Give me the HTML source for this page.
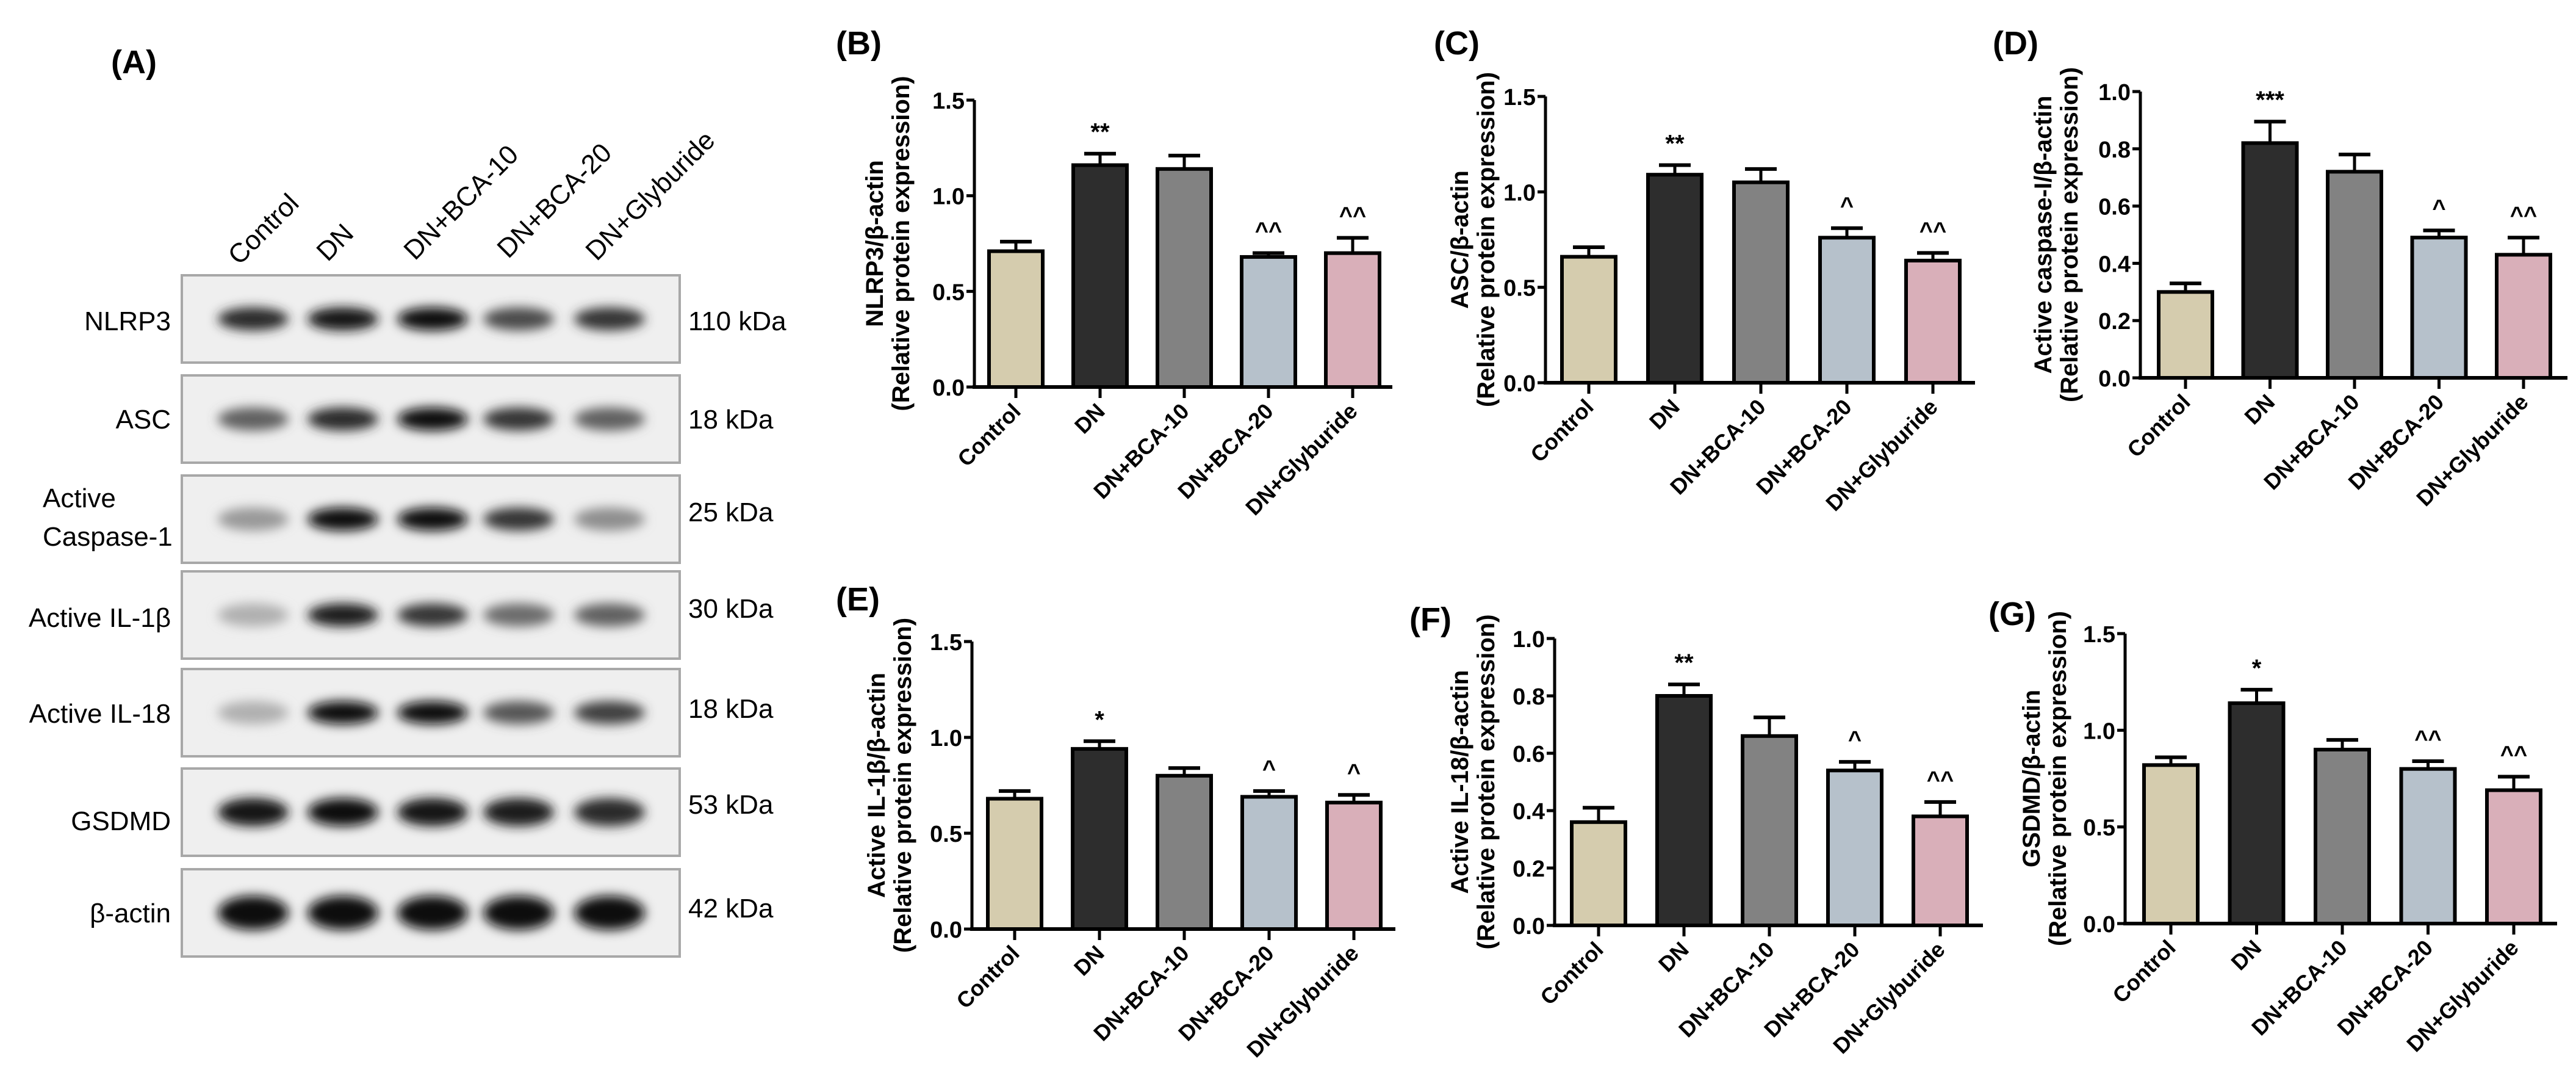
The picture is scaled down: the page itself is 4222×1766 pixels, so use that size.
<!DOCTYPE html>
<html><head><meta charset="utf-8">
<style>
html,body{margin:0;padding:0;background:#fff;}
svg{display:block;font-family:"Liberation Sans",sans-serif;}
</style></head>
<body>
<svg id="fig" width="4222" height="1766" viewBox="0 0 4222 1766" xmlns="http://www.w3.org/2000/svg">
<defs>
<filter id="blur" x="-50%" y="-100%" width="200%" height="300%"><feGaussianBlur stdDeviation="9"/></filter>
</defs>
<g id="blot"></g>
<g id="charts"></g>
</svg>
<script>
const NS = "http://www.w3.org/2000/svg";
// ---------------- data ----------------
const groups = ["Control","DN","DN+BCA-10","DN+BCA-20","DN+Glyburide"];
const barColors = ["#d5ccae","#2d2d2d","#828282","#b6c1cb","#d9afb9"];
const valuesB = [0.71,1.16,1.14,0.68,0.70];
const errorsB = [0.05,0.06,0.07,0.02,0.08];
const sigB = ["","**","","^^","^^"];
const valuesC = [0.66,1.09,1.05,0.76,0.64];
const errorsC = [0.05,0.05,0.07,0.05,0.04];
const sigC = ["","**","","^","^^"];
const valuesD = [0.30,0.82,0.72,0.49,0.43];
const errorsD = [0.03,0.075,0.06,0.025,0.06];
const sigD = ["","***","","^","^^"];
const valuesE = [0.68,0.94,0.80,0.69,0.66];
const errorsE = [0.04,0.04,0.04,0.03,0.04];
const sigE = ["","*","","^","^"];
const valuesF = [0.36,0.80,0.66,0.54,0.38];
const errorsF = [0.05,0.04,0.065,0.03,0.05];
const sigF = ["","**","","^","^^"];
const valuesG = [0.82,1.14,0.90,0.80,0.69];
const errorsG = [0.04,0.07,0.05,0.04,0.07];
const sigG = ["","*","","^^","^^"];
const ticks15 = ["0.0","0.5","1.0","1.5"];
const ticks10 = ["0.0","0.2","0.4","0.6","0.8","1.0"];
const blotRows = ["NLRP3","ASC","Active Caspase-1","Active IL-1β","Active IL-18","GSDMD","β-actin"];
const blotKDa = ["110 kDa","18 kDa","25 kDa","30 kDa","18 kDa","53 kDa","42 kDa"];
const bandIntensity = [
 [0.85,0.95,1.0,0.7,0.8],
 [0.6,0.85,1.0,0.8,0.6],
 [0.35,1.0,1.0,0.8,0.4],
 [0.25,0.9,0.8,0.55,0.6],
 [0.25,1.0,1.0,0.65,0.75],
 [0.95,1.0,0.95,0.9,0.85],
 [1.0,1.0,1.0,1.0,1.0]
];

function mk(tag, attrs, parent){
  const e=document.createElementNS(NS,tag);
  for(const k in attrs) e.setAttribute(k,attrs[k]);
  if(parent) parent.appendChild(e);
  return e;
}

// ---------------- blot ----------------
const blot=document.getElementById("blot");
const A=mk("text",{x:182,y:120,"font-size":54,"font-weight":"bold"},blot);
A.textContent="(A)";


const laneX=[415,562,709,850,999];
const laneLabelPos=[[392,436],[537,430],[680,428],[833,425],[978,429]];
groups.forEach((g,i)=>{
  const t=mk("text",{x:laneLabelPos[i][0],y:laneLabelPos[i][1],"font-size":44,transform:`rotate(-45 ${laneLabelPos[i][0]} ${laneLabelPos[i][1]})`},blot);
  t.textContent=g;
  
  
});
const boxTop=[451,615,779,936,1096,1259,1424];
const boxH=143;
const labelY=[[525],[686],[815,878],[1011],[1168],[1344],[1495]];
const kdaY=[525,686,838,996,1160,1317,1487];
blotRows.forEach((r,ri)=>{
  const box=mk("rect",{x:298,y:boxTop[ri],width:816,height:boxH,fill:"#efefef",stroke:"#a8a8a8","stroke-width":4},blot);
  
  
  bandIntensity[ri].forEach((v,li)=>{
    const g=Math.round(232-225*v);
    const bh = ri===6?56:(ri===5?46:38);
    const b=mk("ellipse",{cx:laneX[li],cy:boxTop[ri]+boxH*0.5,rx:58,ry:bh/2,fill:`rgb(${g},${g},${g})`,filter:"url(#blur)"},blot);
    
    
  });
  if(ri===2){
    const t1=mk("text",{x:70,y:labelY[ri][0]+16,"font-size":44},blot); t1.textContent="Active";
    
    
    const t2=mk("text",{x:70,y:labelY[ri][1]+16,"font-size":44},blot); t2.textContent="Caspase-1";
    
    
  } else {
    const t=mk("text",{x:280,y:labelY[ri][0]+16,"font-size":44,"text-anchor":"end"},blot); t.textContent=r;
    
    
  }
  const k=mk("text",{x:1128,y:kdaY[ri]+16,"font-size":44},blot); k.textContent=blotKDa[ri];
  
  
});

// ---------------- charts ----------------
const chartsG=document.getElementById("charts");
function chart(cfg){
  const g=mk("g",{},chartsG);
  
  
  const yOf=v=>cfg.y0-(v/cfg.ymax)*(cfg.y0-cfg.yTop);
  const xOf=i=>cfg.c0+i*cfg.sp;
  const lab=mk("text",{x:cfg.lx,y:cfg.ly,"font-size":54,"font-weight":"bold"},g);
  lab.textContent="("+cfg.id.toUpperCase()+")";
  
  
  const ya=mk("line",{x1:cfg.ax,y1:cfg.yTop,x2:cfg.ax,y2:cfg.y0,stroke:"#000","stroke-width":5},g);
  
  
  cfg.ticks.forEach(t=>{
    const v=parseFloat(t), y=yOf(v);
    const tk=mk("line",{x1:cfg.ax-13,y1:y,x2:cfg.ax,y2:y,stroke:"#000","stroke-width":5},g);
    
    
    const tl=mk("text",{x:cfg.ax-16,y:y+14,"font-size":38,"font-weight":"bold","text-anchor":"end"},g);
    tl.textContent=t;
    
    
  });
  const cy=(cfg.y0+cfg.yTop)/2;
  const t1=mk("text",{x:cfg.tx1,y:cy,"font-size":40,"font-weight":"bold","text-anchor":"middle",transform:`rotate(-90 ${cfg.tx1} ${cy})`},g);
  t1.textContent=cfg.title;
  
  
  const t2=mk("text",{x:cfg.tx2,y:cy,"font-size":40,"font-weight":"bold","text-anchor":"middle",transform:`rotate(-90 ${cfg.tx2} ${cy})`},g);
  t2.textContent="(Relative protein expression)";
  
  
  cfg.vals.forEach((v,i)=>{
    const x=xOf(i), yt=yOf(v), ye=yOf(v+cfg.errs[i]);
    const el=mk("line",{x1:x,y1:yt,x2:x,y2:ye,stroke:"#000","stroke-width":5},g);
    
    
    const cap=mk("line",{x1:x-26,y1:ye,x2:x+26,y2:ye,stroke:"#000","stroke-width":6},g);
    
    
    const b=mk("rect",{x:x-44,y:yt,width:88,height:cfg.y0-yt,fill:barColors[i],stroke:"#000","stroke-width":6},g);
    
    
    if(cfg.sig[i]){
      const s=mk("text",{x:x,y:ye-(cfg.sig[i].includes("*")?22:24),"font-size":cfg.sig[i].includes("*")?40:38,"font-weight":"bold","text-anchor":"middle"},g);
      s.textContent=cfg.sig[i];
      
      
    }
    const tk=mk("line",{x1:x,y1:cfg.y0,x2:x,y2:cfg.y0+18,stroke:"#000","stroke-width":5},g);
    
    
    const lx=x+10, ly=cfg.y0+42;
    const cl=mk("text",{x:lx,y:ly,"font-size":36,"font-weight":"bold","text-anchor":"end",transform:`rotate(-45 ${lx} ${ly})`},g);
    cl.textContent=groups[i];
    
    
  });
  const xa=mk("line",{x1:cfg.ax-3,y1:cfg.y0,x2:cfg.xEnd,y2:cfg.y0,stroke:"#000","stroke-width":6},g);
  
  
}
chart({id:"b",vals:valuesB,errs:errorsB,sig:sigB,ticks:ticks15,ymax:1.5,ax:1597,y0:634,yTop:164,c0:1665,sp:138,xEnd:2282,lx:1370,ly:89,tx1:1447,tx2:1490,title:"NLRP3/β-actin"});
chart({id:"c",vals:valuesC,errs:errorsC,sig:sigC,ticks:ticks15,ymax:1.5,ax:2533,y0:627,yTop:158,c0:2604,sp:141,xEnd:3237,lx:2350,ly:89,tx1:2406,tx2:2449,title:"ASC/β-actin"});
chart({id:"d",vals:valuesD,errs:errorsD,sig:sigD,ticks:ticks10,ymax:1.0,ax:3508,y0:619,yTop:150,c0:3582,sp:138.5,xEnd:4208,lx:3266,ly:89,tx1:3362,tx2:3405,title:"Active caspase-I/β-actin"});
chart({id:"e",vals:valuesE,errs:errorsE,sig:sigE,ticks:ticks15,ymax:1.5,ax:1593,y0:1522,yTop:1051,c0:1663,sp:139,xEnd:2287,lx:1370,ly:1000,tx1:1450,tx2:1493,title:"Active IL-1β/β-actin"});
chart({id:"f",vals:valuesF,errs:errorsF,sig:sigF,ticks:ticks10,ymax:1.0,ax:2548,y0:1516,yTop:1046,c0:2620,sp:140,xEnd:3250,lx:2310,ly:1033,tx1:2406,tx2:2449,title:"Active IL-18/β-actin"});
chart({id:"g",vals:valuesG,errs:errorsG,sig:sigG,ticks:ticks15,ymax:1.5,ax:3483,y0:1513,yTop:1038,c0:3558,sp:140.5,xEnd:4191,lx:3259,ly:1024,tx1:3343,tx2:3386,title:"GSDMD/β-actin"});
</script>
</body></html>
